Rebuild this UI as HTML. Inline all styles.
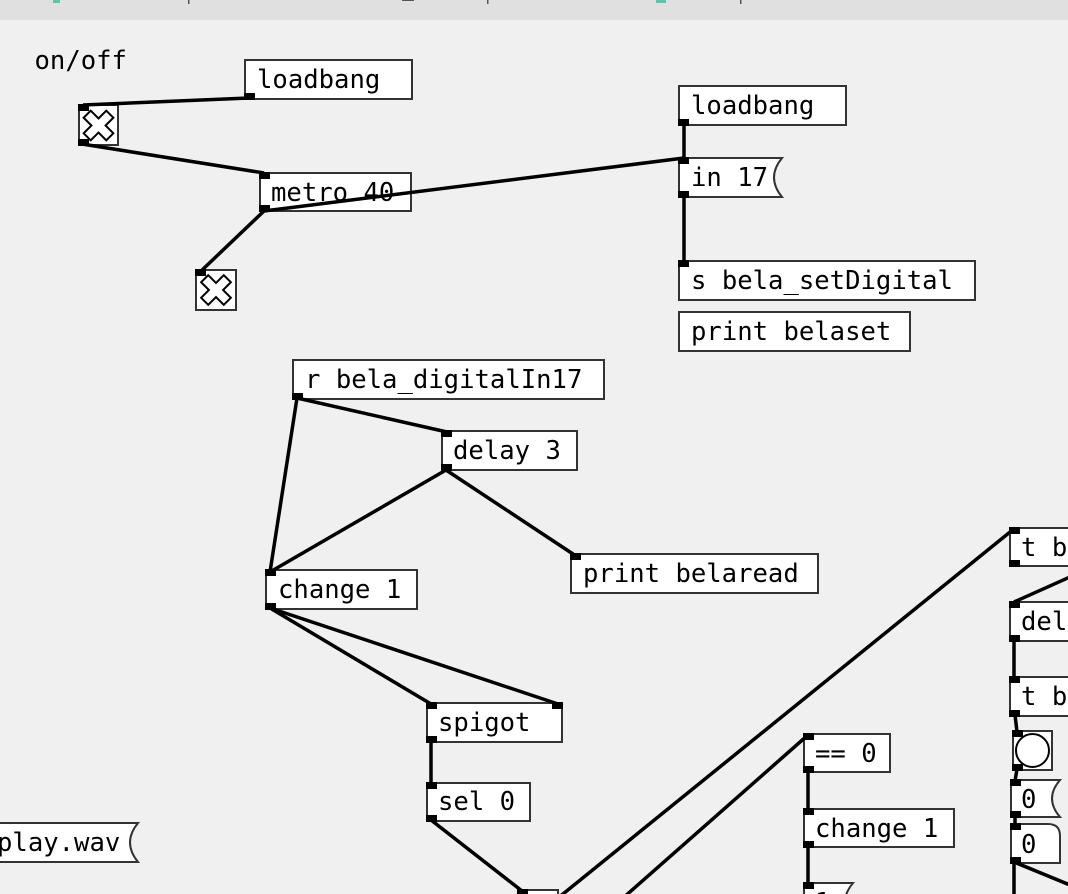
<!DOCTYPE html>
<html>
<head>
<meta charset="utf-8">
<style>
  html, body { margin: 0; padding: 0; background: #f0f0f0; }
  body { width: 1068px; height: 894px; overflow: hidden; }
  svg { display: block; }
  text { font-family: "DejaVu Sans Mono", "Liberation Mono", monospace; font-size: 25.6px; fill: #000; }
</style>
</head>
<body>
<svg width="1068" height="894" viewBox="0 0 1068 894" xmlns="http://www.w3.org/2000/svg">
  <rect x="0" y="0" width="1068" height="894" fill="#f0f0f0"/>
  <!-- top bar -->
  <rect x="0" y="0" width="1068" height="20" fill="#e0e0e0"/>
  <rect x="53" y="0" width="7" height="3" fill="#5cc6a8"/>
  <rect x="656" y="0" width="10" height="3" fill="#5cc6a8"/>
  <rect x="188" y="0" width="1.5" height="4" fill="#555"/>
  <rect x="487" y="0" width="1.5" height="4" fill="#555"/>
  <rect x="740" y="0" width="1.5" height="4" fill="#555"/>
  <rect x="402" y="0" width="12" height="1" fill="#555"/>

  <g fill="#fff" stroke="#333" stroke-width="2">
    <!-- loadbang 1 -->
    <rect x="245" y="60" width="167" height="39"/>
    <!-- toggle 1 -->
    <rect x="79" y="105" width="39" height="40"/>
    <!-- metro 40 -->
    <rect x="260" y="173" width="151" height="38"/>
    <!-- toggle 2 -->
    <rect x="196" y="270" width="40" height="40"/>
    <!-- loadbang 2 -->
    <rect x="679" y="86" width="167" height="39"/>
    <!-- in 17 msg -->
    <path d="M679,158 H782 Q766,177.5 782,197 H679 Z"/>
    <!-- s bela_setDigital -->
    <rect x="679" y="261" width="296" height="39"/>
    <!-- print belaset -->
    <rect x="679" y="312" width="231" height="39"/>
    <!-- r bela_digitalIn17 -->
    <rect x="293" y="360" width="311" height="39"/>
    <!-- delay 3 -->
    <rect x="442" y="431" width="135" height="39"/>
    <!-- change 1 -->
    <rect x="266" y="570" width="151" height="39"/>
    <!-- print belaread -->
    <rect x="571" y="554" width="247" height="39"/>
    <!-- spigot -->
    <rect x="427" y="703" width="135" height="39"/>
    <!-- sel 0 -->
    <rect x="427" y="783" width="103" height="38"/>
    <!-- play.wav msg -->
    <path d="M-10,823 H138 Q122,842.5 138,862 H-10 Z"/>
    <!-- bottom box -->
    <rect x="518" y="890" width="40" height="20"/>
    <!-- == 0 -->
    <rect x="804" y="734" width="86" height="38"/>
    <!-- change 1 (2) -->
    <rect x="804" y="809" width="150" height="38"/>
    <!-- msg 1 bottom -->
    <path d="M804,883 H853 Q837,902 853,921 H804 Z"/>
    <!-- t b 1 -->
    <rect x="1010" y="528" width="100" height="38"/>
    <!-- del -->
    <rect x="1010" y="602" width="100" height="39"/>
    <!-- t b 2 -->
    <rect x="1010" y="677" width="100" height="39"/>
    <!-- bang -->
    <rect x="1013" y="731" width="39" height="39"/>
    <!-- 0 ( msg -->
    <path d="M1011,780 H1060 Q1044,798.5 1060,817 H1011 Z"/>
    <!-- 0 number -->
    <path d="M1011,824 H1048 Q1060,824 1060,836 V863 H1011 Z"/>
  </g>

  <!-- toggle crosses -->
  <g fill="#fff" stroke="#000" stroke-width="2" stroke-linejoin="miter">
    <polygon transform="translate(98.5,125.5) rotate(45)" points="-5,-16 5,-16 5,-5 16,-5 16,5 5,5 5,16 -5,16 -5,5 -16,5 -16,-5 -5,-5"/>
    <polygon transform="translate(216,290) rotate(45)" points="-5,-16 5,-16 5,-5 16,-5 16,5 5,5 5,16 -5,16 -5,5 -16,5 -16,-5 -5,-5"/>
  </g>
  <!-- bang circle -->
  <circle cx="1032.5" cy="750.5" r="16.5" fill="#fff" stroke="#000" stroke-width="2"/>

  <!-- texts -->
  <text x="34.5" y="69">on/off</text>
  <text x="257" y="88">loadbang</text>
  <text x="271" y="201">metro 40</text>
  <text x="691" y="114">loadbang</text>
  <text x="691" y="186">in 17</text>
  <text x="691" y="289">s bela_setDigital</text>
  <text x="691" y="340">print belaset</text>
  <text x="305" y="388">r bela_digitalIn17</text>
  <text x="453" y="459">delay 3</text>
  <text x="278" y="598">change 1</text>
  <text x="583" y="582">print belaread</text>
  <text x="438" y="731">spigot</text>
  <text x="438" y="810">sel 0</text>
  <text x="-3" y="851">play.wav</text>
  <text x="815" y="762">== 0</text>
  <text x="815" y="837">change 1</text>
  <text x="815" y="911">1</text>
  <text x="1021" y="556">t b</text>
  <text x="1021" y="630">del</text>
  <text x="1021" y="705">t b</text>
  <text x="1021" y="808">0</text>
  <text x="1021" y="853">0</text>

  <!-- connections -->
  <g stroke="#000" stroke-width="3.5" fill="none" stroke-linecap="butt">
    <line x1="249" y1="98" x2="83" y2="105"/>
    <line x1="82" y1="144" x2="264" y2="173"/>
    <line x1="264" y1="211" x2="200" y2="272"/>
    <line x1="264" y1="211" x2="684" y2="158"/>
    <line x1="684" y1="125" x2="684" y2="158"/>
    <line x1="684" y1="197" x2="684" y2="262"/>
    <line x1="297" y1="398" x2="447" y2="432"/>
    <line x1="297" y1="398" x2="270" y2="572"/>
    <line x1="446" y1="470" x2="270" y2="572"/>
    <line x1="446" y1="470" x2="576" y2="556"/>
    <line x1="270" y1="608" x2="431" y2="704"/>
    <line x1="270" y1="608" x2="558" y2="704"/>
    <line x1="431" y1="741" x2="431" y2="784"/>
    <line x1="431" y1="820" x2="522" y2="891"/>
    <line x1="558" y1="898" x2="1015" y2="528"/>
    <line x1="623" y1="898" x2="808" y2="735"/>
    <line x1="808" y1="771" x2="808" y2="810"/>
    <line x1="808" y1="846" x2="808" y2="884"/>
    <line x1="1070" y1="577" x2="1014" y2="602"/>
    <line x1="1014" y1="640" x2="1014" y2="678"/>
    <line x1="1015" y1="715" x2="1017" y2="732"/>
    <line x1="1017" y1="769" x2="1015" y2="781"/>
    <line x1="1015" y1="816" x2="1015" y2="825"/>
    <line x1="1014" y1="862" x2="1014" y2="896"/>
    <line x1="1014" y1="862" x2="1070" y2="885"/>
  </g>

  <!-- inlets / outlets -->
  <g fill="#000">
    <!-- loadbang1 outlet -->
    <rect x="244" y="93" width="11" height="7"/>
    <!-- toggle1 -->
    <rect x="78" y="104" width="11" height="7"/>
    <rect x="78" y="139" width="11" height="7"/>
    <!-- metro -->
    <rect x="259" y="172" width="11" height="7"/>
    <rect x="259" y="205" width="11" height="7"/>
    <!-- toggle2 -->
    <rect x="195" y="269" width="11" height="7"/>
    <!-- loadbang2 -->
    <rect x="678" y="119" width="11" height="7"/>
    <!-- in 17 -->
    <rect x="678" y="157" width="11" height="7"/>
    <rect x="678" y="191" width="11" height="7"/>
    <!-- s bela -->
    <rect x="678" y="260" width="11" height="7"/>
    <!-- r bela -->
    <rect x="292" y="393" width="11" height="7"/>
    <!-- delay -->
    <rect x="441" y="430" width="11" height="7"/>
    <rect x="441" y="464" width="11" height="7"/>
    <!-- change 1 -->
    <rect x="265" y="569" width="11" height="7"/>
    <rect x="265" y="603" width="11" height="7"/>
    <!-- print belaread -->
    <rect x="570" y="553" width="11" height="7"/>
    <!-- spigot -->
    <rect x="426" y="702" width="11" height="7"/>
    <rect x="552" y="702" width="11" height="7"/>
    <rect x="426" y="736" width="11" height="7"/>
    <!-- sel 0 -->
    <rect x="426" y="782" width="11" height="7"/>
    <rect x="426" y="815" width="11" height="7"/>
    <!-- bottom box -->
    <rect x="517" y="889" width="11" height="7"/>
    <!-- == 0 -->
    <rect x="803" y="733" width="11" height="7"/>
    <rect x="803" y="766" width="11" height="7"/>
    <!-- change 1 (2) -->
    <rect x="803" y="808" width="11" height="7"/>
    <rect x="803" y="841" width="11" height="7"/>
    <!-- msg 1 -->
    <rect x="803" y="882" width="11" height="7"/>
    <!-- t b 1 -->
    <rect x="1009" y="527" width="11" height="7"/>
    <rect x="1009" y="560" width="11" height="7"/>
    <!-- del -->
    <rect x="1009" y="601" width="11" height="7"/>
    <rect x="1009" y="635" width="11" height="7"/>
    <!-- t b 2 -->
    <rect x="1009" y="676" width="11" height="7"/>
    <rect x="1009" y="710" width="11" height="7"/>
    <!-- bang -->
    <rect x="1012" y="730" width="11" height="7"/>
    <rect x="1012" y="764" width="11" height="7"/>
    <!-- 0 ( msg -->
    <rect x="1010" y="779" width="11" height="7"/>
    <rect x="1010" y="811" width="11" height="7"/>
    <!-- 0 number -->
    <rect x="1010" y="823" width="11" height="7"/>
    <rect x="1010" y="857" width="11" height="7"/>
  </g>
</svg>
</body>
</html>
